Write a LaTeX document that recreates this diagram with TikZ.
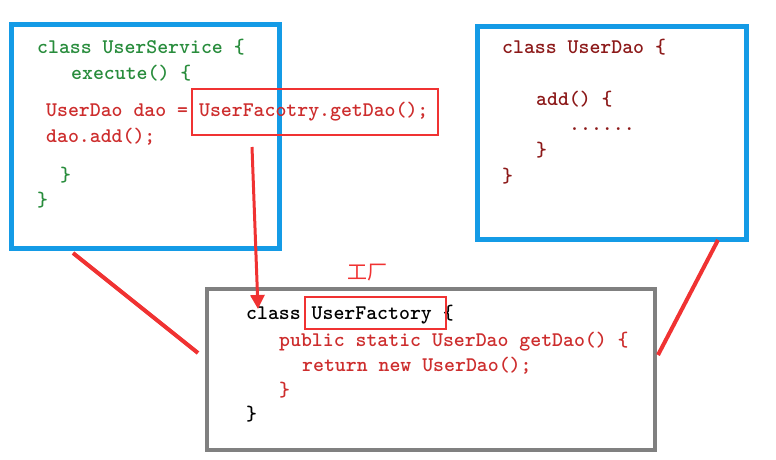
\documentclass[tikz,border=0pt]{standalone}
\usepackage{fontspec}
\newfontfamily\cjkfont{Noto Sans CJK SC}
\usetikzlibrary{arrows.meta}
\definecolor{boxblue}{RGB}{20,155,230}
\definecolor{hired}{RGB}{240,50,50}
\definecolor{codegreen}{RGB}{40,140,60}
\definecolor{codered}{RGB}{205,45,45}
\definecolor{darkred}{RGB}{140,25,25}
\definecolor{boxgray}{RGB}{128,128,128}
\begin{document}
\begin{tikzpicture}[x=1pt,y=-1pt,
  bluebox/.style={draw=boxblue,line width=5pt,inner sep=0pt},
  graybox/.style={draw=boxgray,line width=4pt,inner sep=0pt},
  hibox/.style={draw=hired,line width=2.5pt,inner sep=0pt},
  code/.style={anchor=base west,inner sep=0pt,font=\fontsize{20.8}{24}\selectfont\ttfamily\bfseries},
  link/.style={draw=hired,line width=4pt}]
\useasboundingbox (0,0) rectangle (776,460);
% boxes
\node[bluebox,minimum width=268pt,minimum height=223pt] (svc) at (145,136.5) {};
\node[bluebox,minimum width=269pt,minimum height=212pt] (dao) at (611.5,133) {};
\node[graybox,minimum width=448pt,minimum height=161pt] (fac) at (431,369.5) {};
% UserService code
\node[code,text=codegreen] (s1) at (37,54) {class UserService \{};
\node[code,text=codegreen] (s2) at (71,80) {execute() \{};
\node[code,text=codered] (s3) at (46,116) {UserDao dao = UserFacotry.getDao();};
\node[code,text=codered] (s4) at (46,142) {dao.add();};
\node[code,text=codegreen] (s5) at (60,181) {\}};
\node[code,text=codegreen] (s6) at (37,206) {\}};
% UserDao code
\node[code,text=darkred] (d1) at (502,54) {class UserDao \{};
\node[code,text=darkred] (d2) at (536,105) {add() \{};
\node[code,text=darkred] (d3) at (569,130) {......};
\node[code,text=darkred] (d4) at (536,156) {\}};
\node[code,text=darkred] (d5) at (502,182) {\}};
% UserFactory code
\node[code,text=black] (f1) at (246,319) {class UserFactory \{};
\node[code,text=codered] (f2) at (279,346) {public static UserDao getDao() \{};
\node[code,text=codered] (f3) at (302,371) {return new UserDao();};
\node[code,text=codered] (f4) at (279,396) {\}};
\node[code,text=black] (f5) at (246,420) {\}};
% label
\node[text=hired,inner sep=0pt,font=\fontsize{20}{22}\selectfont\cjkfont] (lbl) at (367,273) {工厂};
% highlight boxes
\node[hibox,minimum width=246pt,minimum height=46pt] (hget) at (315,112) {};
\node[hibox,minimum width=141pt,minimum height=32pt] (hfac) at (375.5,313) {};
% connectors
\coordinate (a1) at (252,147);
\coordinate (a2) at (258,309);
\draw[draw=hired,line width=3pt,-{Triangle[width=14pt,length=14pt]}] (a1) -- (a2);
\coordinate (l1) at (73,253);
\coordinate (l2) at (198,353);
\draw[link] (l1) -- (l2);
\coordinate (r1) at (718,240);
\coordinate (r2) at (658,355);
\draw[link] (r1) -- (r2);
\end{tikzpicture}
\end{document}
